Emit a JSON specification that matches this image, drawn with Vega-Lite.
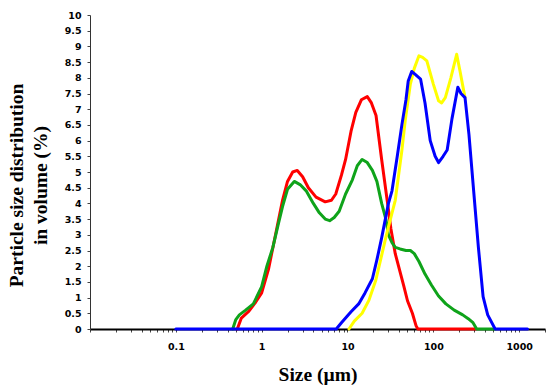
{
  "$schema": "https://vega.github.io/schema/vega-lite/v6.json",
  "width": 455,
  "height": 314,
  "autosize": "none",
  "padding": {"left": 90, "top": 15, "right": 5, "bottom": 62},
  "background": "white",
  "config": {"view": {"stroke": null}},
  "data": {"values": [
    {"s":"red","x":0.52,"y":0},{"s":"red","x":0.58,"y":0.35},{"s":"red","x":0.7,"y":0.55},{"s":"red","x":0.85,"y":0.85},{"s":"red","x":1.0,"y":1.15},{"s":"red","x":1.2,"y":1.9},{"s":"red","x":1.45,"y":3.0},{"s":"red","x":1.75,"y":4.1},{"s":"red","x":2.0,"y":4.7},{"s":"red","x":2.3,"y":5.0},{"s":"red","x":2.6,"y":5.05},{"s":"red","x":3.0,"y":4.85},{"s":"red","x":3.5,"y":4.5},{"s":"red","x":4.3,"y":4.2},{"s":"red","x":5.5,"y":4.05},{"s":"red","x":6.5,"y":4.1},{"s":"red","x":7.3,"y":4.3},{"s":"red","x":8.5,"y":4.9},{"s":"red","x":9.5,"y":5.4},{"s":"red","x":11,"y":6.3},{"s":"red","x":12.5,"y":6.9},{"s":"red","x":14.5,"y":7.3},{"s":"red","x":17,"y":7.4},{"s":"red","x":19,"y":7.2},{"s":"red","x":21.5,"y":6.8},{"s":"red","x":25,"y":5.4},{"s":"red","x":30,"y":3.8},{"s":"red","x":32,"y":3.2},{"s":"red","x":36,"y":2.4},{"s":"red","x":45,"y":1.4},{"s":"red","x":50,"y":0.9},{"s":"red","x":57,"y":0.5},{"s":"red","x":63,"y":0.1},{"s":"red","x":66,"y":0},{"s":"red","x":310,"y":0},
    {"s":"green","x":0.46,"y":0},{"s":"green","x":0.5,"y":0.3},{"s":"green","x":0.55,"y":0.45},{"s":"green","x":0.65,"y":0.6},{"s":"green","x":0.8,"y":0.8},{"s":"green","x":1.0,"y":1.35},{"s":"green","x":1.15,"y":2.0},{"s":"green","x":1.35,"y":2.6},{"s":"green","x":1.55,"y":3.3},{"s":"green","x":1.75,"y":3.9},{"s":"green","x":2.0,"y":4.45},{"s":"green","x":2.4,"y":4.7},{"s":"green","x":2.8,"y":4.6},{"s":"green","x":3.3,"y":4.4},{"s":"green","x":4.0,"y":4.0},{"s":"green","x":4.7,"y":3.7},{"s":"green","x":5.5,"y":3.5},{"s":"green","x":6.2,"y":3.45},{"s":"green","x":7.0,"y":3.55},{"s":"green","x":8.0,"y":3.75},{"s":"green","x":9.5,"y":4.3},{"s":"green","x":11.4,"y":4.75},{"s":"green","x":13,"y":5.2},{"s":"green","x":14.8,"y":5.4},{"s":"green","x":17,"y":5.3},{"s":"green","x":19.5,"y":5.05},{"s":"green","x":22,"y":4.7},{"s":"green","x":25,"y":4.0},{"s":"green","x":28,"y":3.5},{"s":"green","x":30,"y":3.0},{"s":"green","x":33,"y":2.75},{"s":"green","x":36,"y":2.6},{"s":"green","x":41,"y":2.55},{"s":"green","x":48,"y":2.5},{"s":"green","x":54,"y":2.5},{"s":"green","x":60,"y":2.4},{"s":"green","x":68,"y":2.15},{"s":"green","x":80,"y":1.75},{"s":"green","x":95,"y":1.4},{"s":"green","x":115,"y":1.05},{"s":"green","x":140,"y":0.8},{"s":"green","x":175,"y":0.6},{"s":"green","x":220,"y":0.45},{"s":"green","x":255,"y":0.33},{"s":"green","x":290,"y":0.2},{"s":"green","x":320,"y":0},{"s":"green","x":525,"y":0},
    {"s":"yellow","x":10.4,"y":0},{"s":"yellow","x":12,"y":0.25},{"s":"yellow","x":14.8,"y":0.5},{"s":"yellow","x":17.8,"y":0.92},{"s":"yellow","x":21.4,"y":1.56},{"s":"yellow","x":27.5,"y":2.83},{"s":"yellow","x":30,"y":3.25},{"s":"yellow","x":36,"y":4.1},{"s":"yellow","x":43,"y":5.68},{"s":"yellow","x":47,"y":6.63},{"s":"yellow","x":54,"y":7.8},{"s":"yellow","x":60,"y":8.3},{"s":"yellow","x":68,"y":8.7},{"s":"yellow","x":75,"y":8.65},{"s":"yellow","x":84,"y":8.54},{"s":"yellow","x":100,"y":7.8},{"s":"yellow","x":115,"y":7.27},{"s":"yellow","x":125,"y":7.2},{"s":"yellow","x":138,"y":7.37},{"s":"yellow","x":160,"y":8.0},{"s":"yellow","x":187,"y":8.75},{"s":"yellow","x":205,"y":8.2},{"s":"yellow","x":224,"y":7.64},{"s":"yellow","x":234,"y":7.37},
    {"s":"blue","x":0.1,"y":0},{"s":"blue","x":7.4,"y":0},{"s":"blue","x":8.5,"y":0.2},{"s":"blue","x":9.5,"y":0.35},{"s":"blue","x":11,"y":0.55},{"s":"blue","x":13.5,"y":0.8},{"s":"blue","x":16,"y":1.15},{"s":"blue","x":19.5,"y":1.6},{"s":"blue","x":22,"y":2.2},{"s":"blue","x":25,"y":2.9},{"s":"blue","x":30,"y":4.0},{"s":"blue","x":33,"y":4.4},{"s":"blue","x":38,"y":5.5},{"s":"blue","x":43,"y":6.5},{"s":"blue","x":48,"y":7.3},{"s":"blue","x":51,"y":7.9},{"s":"blue","x":56,"y":8.2},{"s":"blue","x":62,"y":8.1},{"s":"blue","x":71,"y":7.96},{"s":"blue","x":80,"y":7.2},{"s":"blue","x":92,"y":6.0},{"s":"blue","x":105,"y":5.5},{"s":"blue","x":115,"y":5.3},{"s":"blue","x":130,"y":5.5},{"s":"blue","x":145,"y":5.7},{"s":"blue","x":165,"y":6.7},{"s":"blue","x":193,"y":7.7},{"s":"blue","x":210,"y":7.5},{"s":"blue","x":234,"y":7.37},{"s":"blue","x":260,"y":6.2},{"s":"blue","x":295,"y":4.4},{"s":"blue","x":335,"y":2.6},{"s":"blue","x":380,"y":1.03},{"s":"blue","x":430,"y":0.45},{"s":"blue","x":525,"y":0},{"s":"blue","x":1250,"y":0}
  ]},
  "mark": {"type": "line", "strokeWidth": 3, "strokeJoin": "round", "strokeCap": "round"},
  "encoding": {
    "x": {
      "field": "x", "type": "quantitative",
      "scale": {"type": "log", "domain": [0.01, 2000], "nice": false},
      "axis": {
        "title": "Size (µm)",
        "values": [0.01,0.02,0.03,0.04,0.05,0.06,0.07,0.08,0.09,0.1,0.2,0.3,0.4,0.5,0.6,0.7,0.8,0.9,1,2,3,4,5,6,7,8,9,10,20,30,40,50,60,70,80,90,100,200,300,400,500,600,700,800,900,1000,2000],
        "format": "~g",
        "labelExpr": "indexof([0.1,1,10,100,1000], datum.value) >= 0 ? datum.label : ''",
        "labelOverlap": false,
        "labelFont": "DejaVu Sans", "labelFontWeight": "bold", "labelFontSize": 9.5, "labelColor": "black",
        "labelPadding": 9,
        "tickSize": 3, "tickColor": "#444", "tickWidth": 1,
        "domainColor": "black", "domainWidth": 2,
        "grid": false,
        "titleFont": "Liberation Serif", "titleFontWeight": "bold", "titleFontSize": 19.5, "titleColor": "black",
        "titlePadding": 15
      }
    },
    "y": {
      "field": "y", "type": "quantitative",
      "scale": {"domain": [0, 10], "nice": false},
      "axis": {
        "title": ["Particle size distribution", "in volume (%)"],
        "values": [0,0.5,1,1.5,2,2.5,3,3.5,4,4.5,5,5.5,6,6.5,7,7.5,8,8.5,9,9.5,10],
        "format": "~g",
        "labelOverlap": false,
        "labelFont": "DejaVu Sans", "labelFontWeight": "bold", "labelFontSize": 9.5, "labelColor": "black",
        "labelPadding": 6,
        "tickSize": 3, "tickColor": "#444",
        "domainColor": "#333", "domainWidth": 1,
        "grid": false,
        "titleFont": "Liberation Serif", "titleFontWeight": "bold", "titleFontSize": 19.5, "titleColor": "black",
        "titleLineHeight": 24,
        "titleX": -74, "titleY": 170, "titleBaseline": "middle", "titleAngle": 270
      }
    },
    "color": {
      "field": "s", "type": "nominal",
      "scale": {"domain": ["red", "green", "yellow", "blue"], "range": ["#ff0000", "#0fa31a", "#ffff00", "#0000ff"]},
      "legend": null
    },
    "order": {"field": "x", "type": "quantitative"}
  }
}
